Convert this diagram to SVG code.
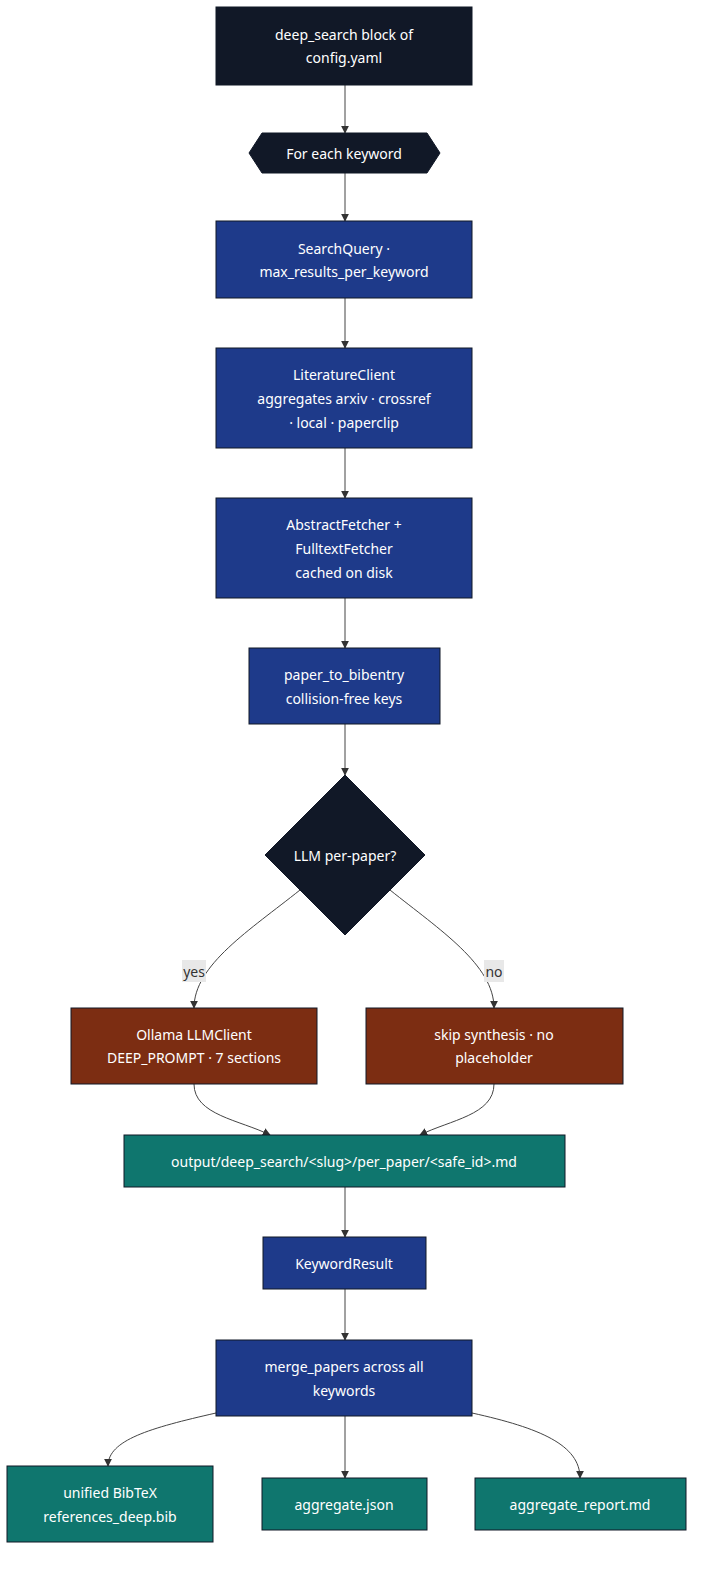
<svg xmlns="http://www.w3.org/2000/svg" width="704" height="1573" viewBox="0 0 704 1573">
<style>
text{font-family:"Noto Sans","Liberation Sans",sans-serif;font-size:14px;fill:#fff;text-anchor:middle;dominant-baseline:central}
.d{fill:#111827;stroke:#111827}
.b{fill:#1e3a8a;stroke:#111827}
.r{fill:#7c2d12;stroke:#111827}
.t{fill:#0f766e;stroke:#111827}
.e{fill:none;stroke:#444;stroke-width:1}
.lb{fill:#e8e8e8}
.lt{fill:#333}
</style>
<defs><marker id="a" viewBox="0 0 10 10" refX="9" refY="5" markerWidth="8" markerHeight="8" orient="auto"><path d="M0,0L10,5L0,10z" fill="#333"/></marker></defs>
<rect width="704" height="1573" fill="#fff"/>
<g id="connectors">
<path class="e" d="M345,85V133" marker-end="url(#a)"/>
<path class="e" d="M345,173V221" marker-end="url(#a)"/>
<path class="e" d="M345,298V348" marker-end="url(#a)"/>
<path class="e" d="M345,448V498" marker-end="url(#a)"/>
<path class="e" d="M345,598V648" marker-end="url(#a)"/>
<path class="e" d="M345,724V775" marker-end="url(#a)"/>
<path class="e" d="M300,890C250,930 194,965 194,1008" marker-end="url(#a)"/>
<path class="e" d="M390,890C440,930 494,965 494,1008" marker-end="url(#a)"/>
<path class="e" d="M194,1084C194,1115 240,1120 270,1135" marker-end="url(#a)"/>
<path class="e" d="M494,1084C494,1115 450,1120 420,1135" marker-end="url(#a)"/>
<path class="e" d="M345,1187V1237" marker-end="url(#a)"/>
<path class="e" d="M345,1289V1340" marker-end="url(#a)"/>
<path class="e" d="M216,1413C150,1428 108,1440 108,1466" marker-end="url(#a)"/>
<path class="e" d="M345,1416V1478" marker-end="url(#a)"/>
<path class="e" d="M472,1413C540,1428 580,1445 580,1478" marker-end="url(#a)"/>
<rect class="lb" x="182" y="960" width="24" height="22"/><text class="lt" x="194" y="971">yes</text>
<rect class="lb" x="484" y="960" width="20" height="22"/><text class="lt" x="494" y="971">no</text>
</g>
<g id="config"><rect class="d" x="216" y="7" width="256" height="78"/><text x="344" y="34">deep_search block of</text><text x="344" y="57">config.yaml</text></g>
<g id="foreach"><polygon class="d" points="249,153 262,133 427,133 440,153 427,173 262,173"/><text x="344" y="153">For each keyword</text></g>
<g id="searchquery"><rect class="b" x="216" y="221" width="256" height="77"/><text x="344" y="248">SearchQuery ·</text><text x="344" y="271">max_results_per_keyword</text></g>
<g id="litclient"><rect class="b" x="216" y="348" width="256" height="100"/><text x="344" y="374">LiteratureClient</text><text x="344" y="398">aggregates arxiv · crossref</text><text x="344" y="422">· local · paperclip</text></g>
<g id="fetcher"><rect class="b" x="216" y="498" width="256" height="100"/><text x="344" y="524">AbstractFetcher +</text><text x="344" y="548">FulltextFetcher</text><text x="344" y="572">cached on disk</text></g>
<g id="bibentry"><rect class="b" x="249" y="648" width="191" height="76"/><text x="344" y="674">paper_to_bibentry</text><text x="344" y="698">collision-free keys</text></g>
<g id="llm"><polygon class="d" points="345,775 425,855 345,935 265,855"/><text x="345" y="855">LLM per-paper?</text></g>
<g id="ollama"><rect class="r" x="71" y="1008" width="246" height="76"/><text x="194" y="1034">Ollama LLMClient</text><text x="194" y="1057">DEEP_PROMPT · 7 sections</text></g>
<g id="skip"><rect class="r" x="366" y="1008" width="257" height="76"/><text x="494" y="1034">skip synthesis · no</text><text x="494" y="1057">placeholder</text></g>
<g id="output"><rect class="t" x="124" y="1135" width="441" height="52"/><text x="344" y="1161">output/deep_search/&lt;slug&gt;/per_paper/&lt;safe_id&gt;.md</text></g>
<g id="kwresult"><rect class="b" x="263" y="1237" width="163" height="52"/><text x="344" y="1263">KeywordResult</text></g>
<g id="merge"><rect class="b" x="216" y="1340" width="256" height="76"/><text x="344" y="1366">merge_papers across all</text><text x="344" y="1390">keywords</text></g>
<g id="bibtex"><rect class="t" x="7" y="1466" width="206" height="76"/><text x="110" y="1492">unified BibTeX</text><text x="110" y="1516">references_deep.bib</text></g>
<g id="aggjson"><rect class="t" x="262" y="1478" width="165" height="52"/><text x="344" y="1504">aggregate.json</text></g>
<g id="aggreport"><rect class="t" x="475" y="1478" width="211" height="52"/><text x="580" y="1504">aggregate_report.md</text></g>
</svg>
